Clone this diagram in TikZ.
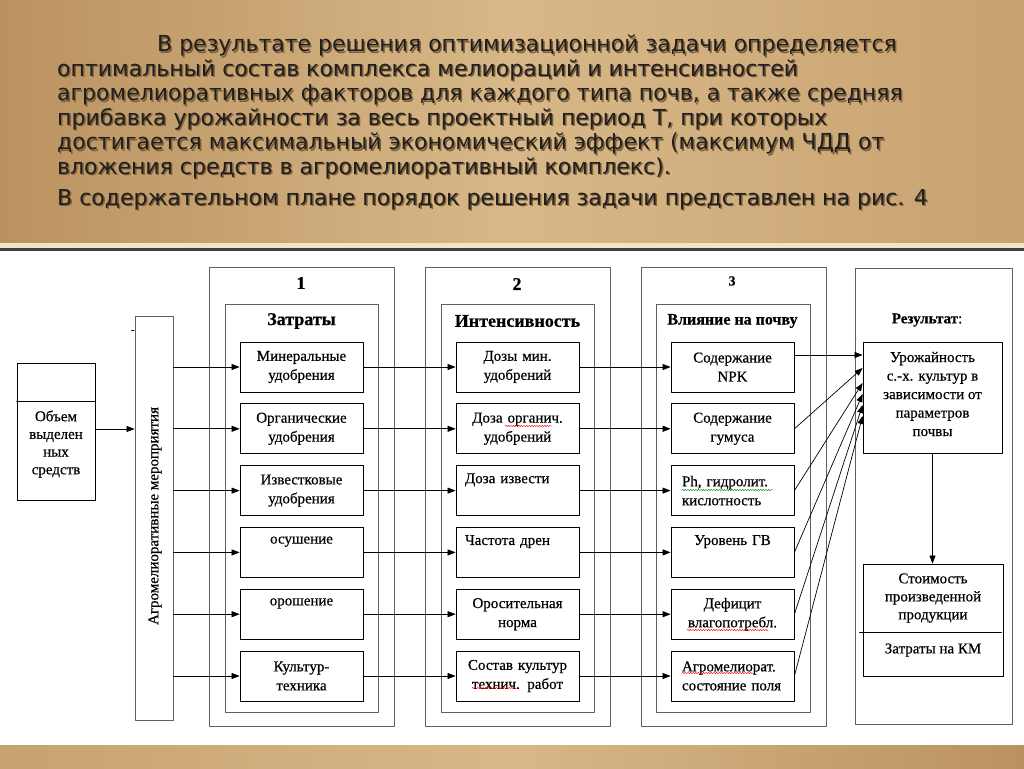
\documentclass[tikz,border=0pt]{standalone}
\usepackage{fontspec}
\setmainfont[FakeBold=0.5]{Liberation Serif}
\newfontfamily\headfont{DejaVu Sans}
\usepackage{xcolor}
\usetikzlibrary{arrows.meta, positioning, calc, decorations.pathmorphing}

\definecolor{parchment}{RGB}{200,162,112}
\definecolor{parchmentlight}{RGB}{216,184,136}
\definecolor{parchmentdark}{RGB}{186,146,96}
\definecolor{creamline}{RGB}{240,230,195}
\definecolor{textshade}{RGB}{125,95,58}
\definecolor{framegray}{RGB}{95,95,95}

\newcommand{\lline}[1]{\makebox[105pt][l]{#1}}

\tikzset{
  headtxt/.style={anchor=base west, inner sep=0pt, font=\headfont\fontsize{22}{24}\selectfont},
  frame/.style={draw=framegray, line width=0.9pt, inner sep=0pt},
  cell/.style={draw, line width=0.8pt, minimum width=123pt, minimum height=50pt,
    text width=105pt, inner xsep=9pt, inner ysep=0pt, align=center,
    font=\fontsize{15}{19}\selectfont},
  title/.style={font=\bfseries\fontsize{18}{20}\selectfont, inner sep=0pt},
  plain/.style={font=\fontsize{15}{18}\selectfont, inner sep=0pt, align=center},
  arr/.style={-{Triangle[length=8pt,width=6pt]}, line width=0.7pt},
  spell/.style={decorate, decoration={snake, amplitude=0.6pt, segment length=2.6pt}, line width=0.45pt}
}

\begin{document}
\begin{tikzpicture}[x=1pt, y=-1pt, >=Stealth, line cap=round, line join=round]

    \useasboundingbox (0,0) rectangle (1024,768);

    % Background
    \fill[white] (0,0) rectangle (1024,768);
    \shade[left color=parchmentdark, right color=parchment, middle color=parchmentlight]
        (0,0) rectangle (1024,243);
    \fill[creamline] (0,243) rectangle (1024,247.5) ;
    \fill[black!75] (0,247.5) rectangle (1024,250.5);
    \shade[left color=parchment, right color=parchmentdark, middle color=parchmentlight]
        (0,745) rectangle (1024,768);

    % Heading text
    \foreach \i/\x/\y/\t in {
        1/157/51.5/{В результате решения оптимизационной задачи определяется},
        2/57/76/{оптимальный состав комплекса мелиораций и интенсивностей},
        3/57/100.5/{агромелиоративных факторов для каждого типа почв, а также средняя},
        4/57/125/{прибавка урожайности за весь проектный период Т, при которых},
        5/57/149.5/{достигается максимальный экономический эффект (максимум ЧДД от},
        6/57/174/{вложения средств в агромелиоративный комплекс).},
        7/57/205/{В содержательном плане порядок решения задачи представлен на рис. 4}
    }{
        \node[headtxt, text=textshade] at (\x+1.5,\y+1.5) {\t};
        \node[headtxt, text=black!88] (ln\i) at (\x,\y) {\t};
    }

    % Column frames
    \node[frame, minimum width=185pt, minimum height=459pt] (f1) at (301.5,496.5) {};
    \node[frame, minimum width=185pt, minimum height=459pt] (f2) at (517.5,496.5) {};
    \node[frame, minimum width=185pt, minimum height=459pt] (f3) at (733.5,496.5) {};
    \node[frame, minimum width=157pt, minimum height=456pt] (f4) at (933.5,496) {};

    \node[frame, minimum width=153pt, minimum height=408pt] (g1) at (301.5,508) {};
    \node[frame, minimum width=153pt, minimum height=408pt] (g2) at (517.5,508) {};
    \node[frame, minimum width=154pt, minimum height=408pt] (g3) at (733,508) {};

    % Column titles
    \node[title] (n1) at (301,283) {1};
    \node[title] (n2) at (517,284) {2};
    \node[title, font=\bfseries\fontsize{14}{16}\selectfont] (n3) at (732,281) {3};
    \node[title] (h1) at (301.5,321) {Затраты};
    \node[title] (h2) at (517.5,321) {Интенсивность};
    \node[title, font=\bfseries\fontsize{16}{18}\selectfont] (h3) at (732.5,321) {Влияние на почву};
    \node[inner sep=0pt, font=\fontsize{15}{18}\selectfont] (h4) at (927,320) {\textbf{Результат}:};

    % Source box
    \node[draw, line width=0.8pt, minimum width=78pt, minimum height=137pt] (vol) at (56,431.5) {};
    \draw[line width=0.8pt] (vol.west |- 0,401) -- (vol.east |- 0,401);
    \node[plain, font=\fontsize{15}{17.7}\selectfont] (voltxt) at (56,444) {Объем\\выделен\\ных\\средств};

    % Measures bar
    \node[frame, minimum width=38pt, minimum height=404pt] (agro) at (154,518) {};
    \node[inner sep=0pt, rotate=90, font=\fontsize{15}{18}\selectfont] (agrotxt) at (155,516) {Агромелиоративные мероприятия};
    \draw[line width=0.6pt] (131.5,330) -- (134,330);

    % Column 1 cells
    \foreach \i/\t in {
        1/{Минеральные\\удобрения},
        2/{Органические\\удобрения},
        3/{Известковые\\удобрения},
        4/{осушение\\\strut},
        5/{орошение\\\strut},
        6/{Культур-\\техника}
    }{
        \node[cell] (a\i) at (301.5,{367+61.8*(\i-1)}) {\t};
    }

    % Column 2 cells
    \foreach \i/\t in {
        1/{Дозы мин.\\удобрений},
        2/{Доза органич.\\удобрений},
        3/{\lline{Доза извести}\\\strut},
        4/{\lline{Частота дрен}\\\strut},
        5/{Оросительная\\норма},
        6/{Состав культур\\технич. работ}
    }{
        \node[cell] (b\i) at (517.5,{367+61.8*(\i-1)}) {\t};
    }

    % Column 3 cells
    \foreach \i/\t in {
        1/{Содержание\\NPK},
        2/{Содержание\\гумуса},
        3/{\lline{\hspace{2pt}Ph, гидролит.}\\\lline{\hspace{2pt}кислотность}},
        4/{Уровень ГВ\\\strut},
        5/{Дефицит\\влагопотребл.},
        6/{\lline{\hspace{2pt}Агромелиорат.}\\\lline{\hspace{2pt}состояние поля}}
    }{
        \node[cell] (c\i) at (732.5,{367+61.8*(\i-1)}) {\t};
    }

    % Result boxes
    \node[draw, line width=0.8pt, minimum width=139pt, minimum height=111pt] (res) at (932.5,397.5) {};
    \node[plain, font=\fontsize{15}{18.5}\selectfont] (restxt) at (932.5,394) {Урожайность\\с.-х. культур в\\зависимости от\\параметров\\почвы};
    \node[draw, line width=0.8pt, minimum width=140pt, minimum height=112pt] (cost) at (933,620) {};
    \draw[line width=0.8pt] ([xshift=-3pt]cost.west |- 0,632) -- ([xshift=-2pt]cost.east |- 0,632);
    \node[plain] (costtxt) at (933,598) {Стоимость\\произведенной\\продукции};
    \node[plain] (kmtxt) at (933,650) {Затраты на КМ};

    % Flow arrows
    \draw[arr] (vol.east |- 0,429) -- (agro.west |- 0,429);
    \foreach \i in {1,...,6}{
        \draw[arr] (agro.east |- a\i) -- (a\i);
        \draw[arr] (a\i) -- (b\i);
        \draw[arr] (b\i) -- (c\i);
    }

    % Arrows into the yield box
    \foreach \i/\ty in {1/355, 2/368, 3/383, 4/394, 5/405, 6/416}{
        \coordinate (t\i) at (res.west |- 0,\ty);
    }
    \draw[arr] (c1.east |- t1) -- (t1);
    \foreach \i in {2,...,6}{
        \draw[arr] (c\i.east) -- (t\i);
    }
    \draw[arr] (res.south) -- (res.south |- cost.north);

    % Spell-check marks
    \draw[spell, red] (505,426) -- (552,426);
    \draw[spell, green!55!black] (682,490) -- (773,490);
    \draw[spell, red] (687,630) -- (768,630);
    \draw[spell, red] (682,673) -- (753,673);
    \draw[spell, red] (472,688) -- (517,688);

\end{tikzpicture}
\end{document}
